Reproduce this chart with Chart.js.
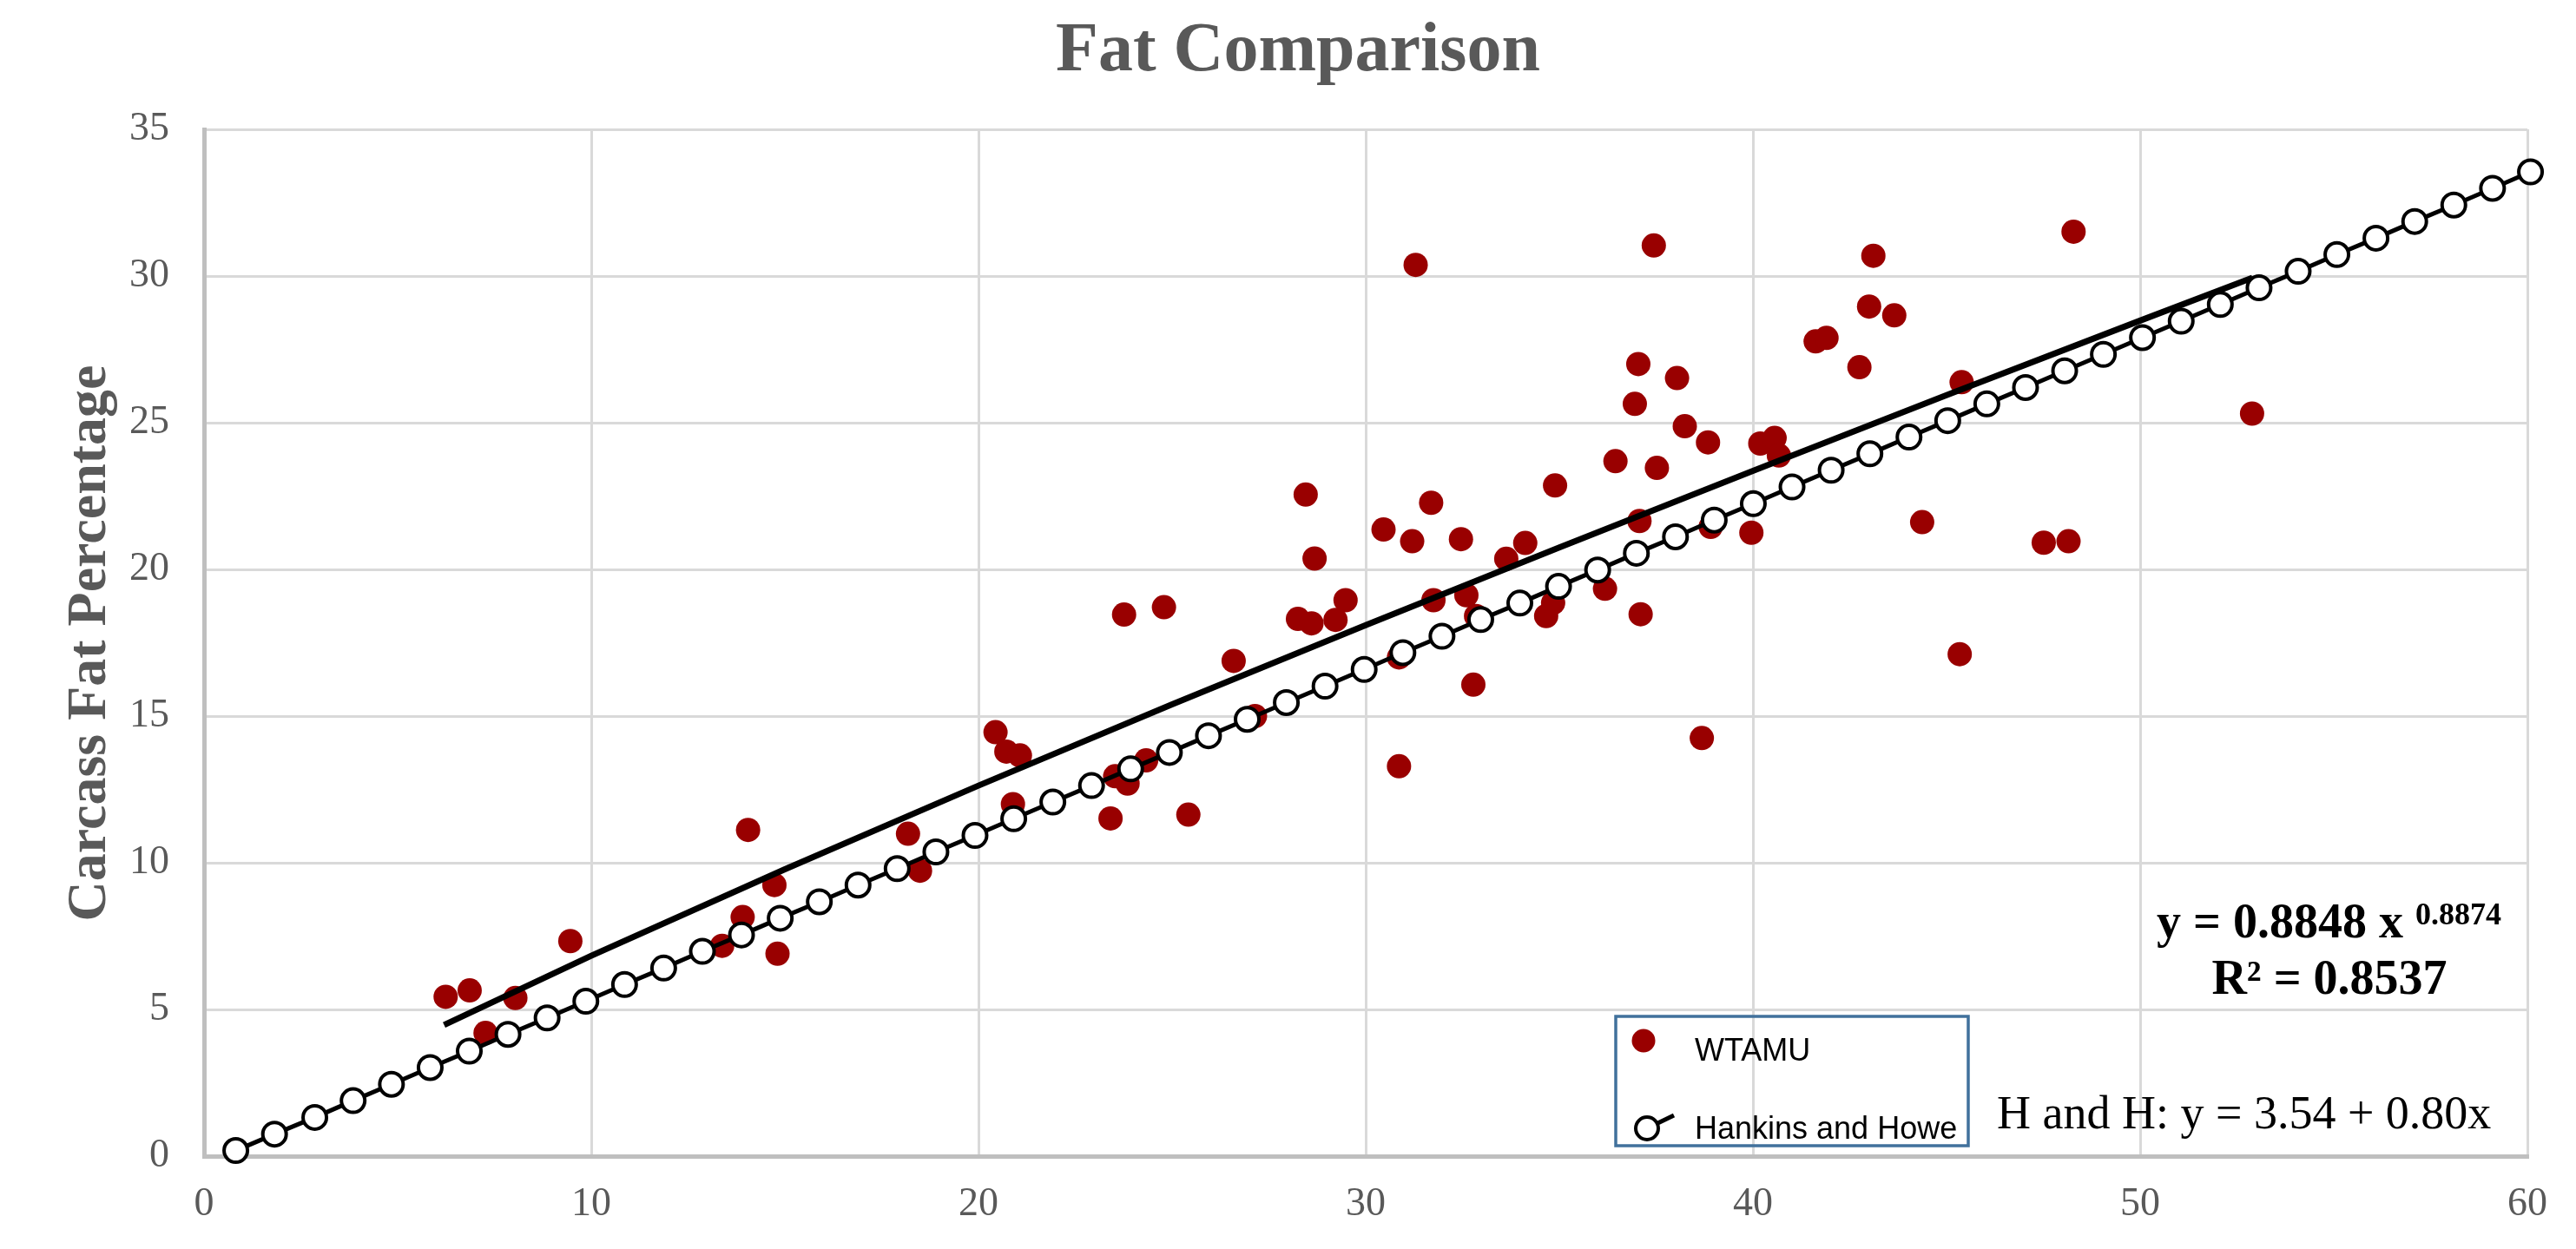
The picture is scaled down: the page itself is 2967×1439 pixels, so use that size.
<!DOCTYPE html>
<html>
<head>
<meta charset="utf-8">
<title>Fat Comparison</title>
<script src="https://cdn.jsdelivr.net/npm/chart.js@4.4.1/dist/chart.umd.min.js"></script>
<style>
  html, body { margin: 0; padding: 0; background: #fff; }
  canvas { display: block; }
</style>
</head>
<body>
<canvas id="fatChart" width="2967" height="1439"></canvas>
<script>
// WTAMU measured points
const wtamuX = [6.24, 6.86, 8.04, 7.27, 9.46, 14.05, 14.73, 13.91, 13.38, 14.81,
  18.18, 18.49, 20.44, 20.72, 21.07, 20.89, 23.41, 25.42, 24.33, 23.53,
  23.85, 23.76, 24.79, 26.59, 27.14, 28.45, 28.68, 28.25, 28.6, 29.22,
  29.48, 30.46, 31.2, 31.29, 31.69, 31.75, 32.46, 32.6, 32.85, 32.78,
  30.86, 30.86, 33.63, 34.12, 34.89, 34.66, 34.84, 36.18, 36.45, 37.07,
  37.1, 36.95, 37.04, 37.44, 37.52, 38.04, 38.24, 38.84, 38.68, 38.91,
  39.96, 40.19, 40.56, 40.67, 41.62, 41.9, 42.75, 43.11, 43.0, 43.65,
  44.37, 45.39, 45.34, 47.51, 48.15, 48.28, 52.89];
const wtamuY = [5.43, 5.65, 5.39, 4.2, 7.33, 11.12, 9.24, 8.15, 7.17, 6.9,
  10.99, 9.73, 14.45, 13.79, 13.66, 12.0, 11.51, 11.64, 13.49, 12.95,
  12.7, 18.46, 18.71, 16.88, 15.0, 22.55, 20.37, 18.31, 18.16, 18.28,
  18.95, 21.36, 20.96, 30.38, 22.27, 18.95, 21.03, 19.12, 18.41, 16.07,
  17.0, 13.29, 20.36, 20.9, 22.86, 18.41, 18.86, 19.34, 23.69, 21.65,
  18.47, 25.64, 27.0, 31.04, 23.46, 26.52, 24.88, 24.33, 14.25, 21.45,
  21.25, 24.29, 24.48, 23.88, 27.77, 27.89, 26.89, 30.69, 28.96, 28.66,
  21.61, 26.38, 17.11, 20.91, 20.96, 31.51, 25.31];

// Hankins and Howe points
const hhX = [0.82, 1.82, 2.86, 3.85, 4.84, 5.84, 6.85, 7.85, 8.86, 9.86,
  10.86, 11.87, 12.87, 13.88, 14.88, 15.89, 16.89, 17.9, 18.9, 19.91,
  20.91, 21.92, 22.92, 23.93, 24.93, 25.94, 26.94, 27.95, 28.95, 29.96,
  30.96, 31.97, 32.97, 33.98, 34.98, 35.99, 36.99, 38.0, 39.0, 40.01,
  41.01, 42.02, 43.02, 44.03, 45.03, 46.04, 47.04, 48.05, 49.05, 50.06,
  51.06, 52.07, 53.07, 54.08, 55.08, 56.09, 57.09, 58.1, 59.1, 60.08];
const hhY = [0.19, 0.75, 1.32, 1.89, 2.45, 3.02, 3.58, 4.15, 4.71, 5.28,
  5.85, 6.41, 6.98, 7.54, 8.11, 8.67, 9.24, 9.8, 10.37, 10.93,
  11.5, 12.07, 12.63, 13.2, 13.76, 14.33, 14.89, 15.46, 16.02, 16.59,
  17.16, 17.72, 18.29, 18.85, 19.42, 19.98, 20.55, 21.11, 21.68, 22.24,
  22.81, 23.38, 23.94, 24.51, 25.07, 25.64, 26.2, 26.77, 27.33, 27.9,
  28.46, 29.03, 29.6, 30.16, 30.73, 31.29, 31.86, 32.42, 32.99, 33.55];

// power trendline
const trendX = [6.2, 10, 15, 20, 25, 30, 35, 40, 45, 50, 52.9];
const trendY = [4.47, 6.83, 9.78, 12.63, 15.4, 18.1, 20.75, 23.36, 25.94, 28.48, 29.94];

const xTicks = [0, 10, 20, 30, 40, 50, 60];
const yTicks = [0, 5, 10, 15, 20, 25, 30, 35];

const toPts = (xs, ys) => xs.map((x, i) => ({ x: x, y: ys[i] }));

const RED = '#990000';
const GRAY = '#595959';

// title, axis title, equations and legend box
const annotations = {
    id: 'annotations',
    afterDraw(chart) {
        const ctx = chart.ctx;
        ctx.save();
        ctx.textBaseline = 'alphabetic';

        ctx.fillStyle = GRAY;
        ctx.textAlign = 'center';
        ctx.font = 'bold 80px "Liberation Serif"';
        ctx.fillText('Fat Comparison', 1495, 81);

        ctx.save();
        ctx.translate(121, 741);
        ctx.rotate(-Math.PI / 2);
        ctx.font = 'bold 64px "Liberation Serif"';
        ctx.fillText('Carcass Fat Percentage', 0, 0);
        ctx.restore();

        ctx.fillStyle = '#000';
        ctx.textAlign = 'left';
        ctx.font = 'bold 56px "Liberation Serif"';
        ctx.fillText('y = 0.8848 x', 2484, 1080);
        ctx.font = 'bold 36px "Liberation Serif"';
        ctx.fillText('0.8874', 2782, 1065);
        ctx.textAlign = 'center';
        ctx.font = 'bold 56px "Liberation Serif"';
        ctx.fillText('R² = 0.8537', 2683, 1145);

        ctx.textAlign = 'left';
        ctx.font = '54px "Liberation Serif"';
        ctx.fillText('H and H: y = 3.54 + 0.80x', 2300, 1300);

        // legend
        ctx.strokeStyle = '#41719c';
        ctx.lineWidth = 3.5;
        ctx.strokeRect(1861, 1171, 406, 149);

        ctx.fillStyle = RED;
        ctx.beginPath();
        ctx.arc(1893, 1199, 13.5, 0, Math.PI * 2);
        ctx.fill();

        ctx.strokeStyle = '#000';
        ctx.lineWidth = 5;
        ctx.beginPath();
        ctx.moveTo(1897, 1300);
        ctx.lineTo(1928, 1285);
        ctx.stroke();
        ctx.fillStyle = '#fff';
        ctx.lineWidth = 4;
        ctx.beginPath();
        ctx.arc(1897, 1300, 13, 0, Math.PI * 2);
        ctx.fill();
        ctx.stroke();

        ctx.fillStyle = '#000';
        ctx.font = '36px "Liberation Sans"';
        ctx.textBaseline = 'middle';
        ctx.fillText('WTAMU', 1952, 1212);
        ctx.fillText('Hankins and Howe', 1952, 1302);
        ctx.restore();
    }
};

new Chart(document.getElementById('fatChart').getContext('2d'), {
    type: 'scatter',
    data: {
        datasets: [{
            label: 'Hankins and Howe',
            data: toPts(hhX, hhY),
            showLine: true,
            borderColor: '#000',
            borderWidth: 5,
            pointRadius: 13.5,
            pointBackgroundColor: '#fff',
            pointBorderColor: '#000',
            pointBorderWidth: 4,
            clip: false,
            order: 0
        }, {
            label: 'Power (WTAMU)',
            data: toPts(trendX, trendY),
            showLine: true,
            borderColor: '#000',
            borderWidth: 7,
            pointRadius: 0,
            order: 1
        }, {
            label: 'WTAMU',
            data: toPts(wtamuX, wtamuY),
            pointRadius: 14,
            pointBackgroundColor: RED,
            pointBorderColor: RED,
            pointBorderWidth: 0,
            order: 2
        }]
    },
    options: {
        responsive: false,
        animation: false,
        devicePixelRatio: 1,
        layout: { padding: { top: 149, right: 56, left: 0, bottom: 0 } },
        plugins: {
            legend: { display: false },
            tooltip: { enabled: false },
            title: { display: false }
        },
        scales: {
            x: {
                type: 'linear',
                min: xTicks[0],
                max: xTicks[xTicks.length - 1],
                afterBuildTicks: (s) => { s.ticks = xTicks.map(v => ({ value: v })); },
                afterFit: (s) => { s.height = 107; },
                grid: { color: '#d9d9d9', lineWidth: 3, drawTicks: false },
                border: { display: true, color: '#bfbfbf', width: 5 },
                ticks: {
                    color: GRAY,
                    padding: 28,
                    maxRotation: 0,
                    font: { family: 'Liberation Serif', size: 46 }
                }
            },
            y: {
                type: 'linear',
                min: yTicks[0],
                max: yTicks[yTicks.length - 1],
                afterBuildTicks: (s) => { s.ticks = yTicks.map(v => ({ value: v })); },
                afterFit: (s) => { s.width = 235; },
                grid: { color: '#d9d9d9', lineWidth: 3, drawTicks: false },
                border: { display: true, color: '#bfbfbf', width: 5 },
                ticks: {
                    color: GRAY,
                    padding: 40,
                    font: { family: 'Liberation Serif', size: 46 }
                }
            }
        }
    },
    plugins: [annotations]
});
</script>
</body>
</html>
